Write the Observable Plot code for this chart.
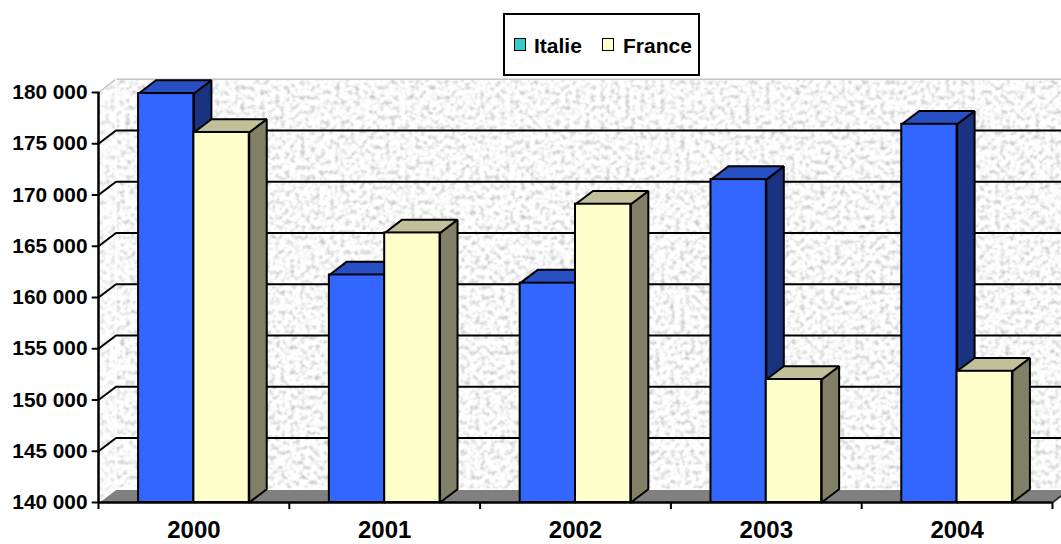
<!DOCTYPE html>
<html>
<head>
<meta charset="utf-8">
<script src="https://cdn.jsdelivr.net/npm/d3@7"></script>
<script src="https://cdn.jsdelivr.net/npm/@observablehq/plot@0.6"></script>
<style>
  html, body { margin: 0; padding: 0; background: #fff; overflow: hidden; }
  #wrap { position: relative; width: 1061px; height: 544px; overflow: hidden;
          font-family: "Liberation Sans", Arial, sans-serif; }
  #legend { position: absolute; left: 503px; top: 13px; width: 197px; height: 63px;
            box-sizing: border-box; border: 2px solid #000; background: #fff; }
  #legend .sw { position: absolute; top: 23px; width: 12px; height: 13px;
                box-sizing: border-box; border: 1.5px solid #000; }
  #legend .lb { position: absolute; top: 20px; font-size: 21px; font-weight: bold;
                line-height: 21px; color: #000; white-space: nowrap; }
</style>
</head>
<body>
<div id="wrap"></div>
<script>
// Data
const years = ["2000", "2001", "2002", "2003", "2004"];
const seriesNames = ["Italie", "France"];
const italie = [179900, 162200, 161400, 171500, 176900];
const france = [176100, 166300, 169100, 152000, 152800];
const yTicks = [140000, 145000, 150000, 155000, 160000, 165000, 170000, 175000, 180000];

// Palette: front face, top face, side face, legend swatch
const palette = {
  Italie: {front: "#3366ff", top: "#2850c4", side: "#1a3380", swatch: "#33cccc"},
  France: {front: "#ffffcc", top: "#c0c09a", side: "#808066", swatch: "#ffffcc"}
};

// Layout
const W = 1061, H = 544;
const M = {top: 92, right: 9, bottom: 42, left: 98};
const Y0 = yTicks[0], Y1 = yTicks[yTicks.length - 1];
const N = years.length;
const pxX = (W - M.left - M.right) / N;        // pixels per category
const pxY = (H - M.top - M.bottom) / (Y1 - Y0); // pixels per unit
const DX = 17.5 / pxX, DY = 13.3 / pxY;         // 3-D depth offset in data units
const TX = 6 / pxX, TY = 7 / pxY;               // tick lengths in data units
const BAR_PAD = 0.21, BAR_W = 0.29;

const fmt = d => d3.format(",")(d).replace(/,/g, " ");

const bars = years.flatMap((year, i) => seriesNames.map((s, j) => ({
  year, series: s,
  value: (j === 0 ? italie : france)[i],
  x1: i + BAR_PAD + j * BAR_W,
  x2: i + BAR_PAD + (j + 1) * BAR_W
})));

// Polygon helpers: each face becomes a closed run of points
const ring = (id, pts) => pts.map(([x, y]) => ({id, x, y}));
const topFace = b => ring(b.year + b.series + "t", [
  [b.x1, b.value], [b.x2, b.value], [b.x2 + DX, b.value + DY], [b.x1 + DX, b.value + DY], [b.x1, b.value]]);
const sideFace = b => ring(b.year + b.series + "s", [
  [b.x2, Y0], [b.x2, b.value], [b.x2 + DX, b.value + DY], [b.x2 + DX, Y0 + DY], [b.x2, Y0]]);

const backWall = ring("back", [[DX, Y0 + DY], [N + DX, Y0 + DY], [N + DX, Y1 + DY], [DX, Y1 + DY], [DX, Y0 + DY]]);
const sideWall = ring("side", [[0, Y0], [0, Y1], [DX, Y1 + DY], [DX, Y0 + DY], [0, Y0]]);
const floor = ring("floor", [[0, Y0], [N, Y0], [N + DX, Y0 + DY], [DX, Y0 + DY], [0, Y0]]);

const innerTicks = yTicks.slice(1, -1);
const gridLines = innerTicks.flatMap(t => ring("g" + t, [[-TX, t], [0, t], [DX, t + DY], [N + DX, t + DY]]));
const outerTicks = [Y0, Y1].flatMap(t => ring("o" + t, [[-TX, t], [0, t]]));
const topEdge = ring("te", [[0, Y1], [DX, Y1 + DY], [N + DX, Y1 + DY]]);
const wallEdges = [
  ...ring("we1", [[DX, Y0 + DY], [DX, Y1 + DY]]),
  ...ring("we2", [[0, Y0], [DX, Y0 + DY], [N + DX, Y0 + DY]])
];

const line = (data, o) => Plot.line(data, {x: "x", y: "y", z: "id", strokeLinejoin: "miter", ...o});

const barMarks = seriesNames.flatMap(s => {
  const rows = bars.filter(b => b.series === s);
  const c = palette[s];
  return [
    line(rows.flatMap(sideFace), {fill: c.side, stroke: "#000", strokeWidth: 2}),
    line(rows.flatMap(topFace), {fill: c.top, stroke: "#000", strokeWidth: 2}),
    Plot.rect(rows, {x1: "x1", x2: "x2", y1: Y0, y2: "value", fill: c.front, stroke: "#000", strokeWidth: 2})
  ];
});

const chart = Plot.plot({
  width: W, height: H,
  marginTop: M.top, marginRight: M.right, marginBottom: M.bottom, marginLeft: M.left,
  x: {domain: [0, N], axis: null},
  y: {domain: [Y0, Y1], axis: null},
  style: {fontFamily: "'Liberation Sans', Arial, sans-serif", background: "#fff", color: "#000", overflow: "visible"},
  marks: [
    line(backWall, {fill: "url(#granite)", stroke: "none"}),
    line(sideWall, {fill: "url(#granite)", stroke: "none"}),
    line(sideWall, {fill: "#fff", fillOpacity: 0.25, stroke: "none"}),
    line(floor, {fill: "#808080", stroke: "none"}),
    line(topEdge, {stroke: "#c4c4c4", strokeWidth: 1.5}),
    line(wallEdges, {stroke: "#fff", strokeWidth: 1.5}),
    line(gridLines, {stroke: "#000", strokeWidth: 2}),
    line(outerTicks, {stroke: "#000", strokeWidth: 2}),
    line(ring("fr", [[N, Y0], [N + DX, Y0 + DY]]), {stroke: "#333", strokeWidth: 2}),
    Plot.ruleX([0], {y1: Y0, y2: Y1, stroke: "#000", strokeWidth: 2.5}),
    ...barMarks,
    Plot.ruleY([Y0], {x1: 0, x2: N, stroke: "#000", strokeWidth: 2.5}),
    Plot.ruleX(d3.range(N + 1), {y1: Y0, y2: Y0 - TY, stroke: "#000", strokeWidth: 2}),
    Plot.text(yTicks, {x: 0, y: d => d, text: fmt, textAnchor: "end", dx: -11,
                       fontSize: 20.8, fontWeight: "bold", fill: "#000"}),
    Plot.text(years, {x: (d, i) => i + 0.5, y: Y0, dy: 28, text: d => d,
                      fontSize: 24, fontWeight: "bold", fill: "#000"})
  ]
});

// Granite texture used by the walls: pale stone with fine grey speckle
chart.insertAdjacentHTML("afterbegin", `
  <defs>
    <filter id="granite-noise" x="0" y="0" width="1" height="1" color-interpolation-filters="sRGB">
      <feTurbulence type="fractalNoise" baseFrequency="0.2" numOctaves="3" seed="11" result="n"/>
      <feColorMatrix in="n" type="matrix"
        values="0.55 0 0 0 0.7  0.55 0 0 0 0.7  0.55 0 0 0 0.7  0 0 0 0 1"/>
    </filter>
    <pattern id="granite" patternUnits="userSpaceOnUse" x="0" y="0" width="${W}" height="${H}">
      <rect width="${W}" height="${H}" fill="#eee" filter="url(#granite-noise)"/>
    </pattern>
  </defs>`);

const wrap = document.getElementById("wrap");
wrap.appendChild(chart);

// Legend
const legend = document.createElement("div");
legend.id = "legend";
const items = [
  {name: "Italie", sw: 8.5, lb: 29},
  {name: "France", sw: 96.5, lb: 118}
];
for (const it of items) {
  const sw = document.createElement("div");
  sw.className = "sw";
  sw.style.left = it.sw + "px";
  sw.style.background = palette[it.name].swatch;
  const lb = document.createElement("div");
  lb.className = "lb";
  lb.style.left = it.lb + "px";
  lb.textContent = it.name;
  legend.append(sw, lb);
}
wrap.appendChild(legend);
</script>
</body>
</html>
